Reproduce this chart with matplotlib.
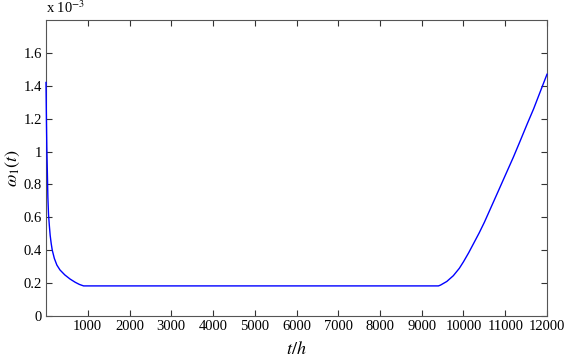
import matplotlib
matplotlib.use("Agg")
import matplotlib.pyplot as plt

t_hours = [0, 10, 20, 31, 45, 60, 80, 100, 125, 150, 200, 260, 335, 450, 575, 700, 800, 900,
           9400, 9450, 9600, 9756, 9900, 10000, 10125, 10250, 10375, 10500, 10667, 10834,
           11000, 11193, 11350, 11529, 11680, 11832, 12000]
omega = [1.42, 1.20, 1.02, 0.89, 0.72, 0.62, 0.55, 0.49, 0.44, 0.40, 0.35, 0.31, 0.28, 0.25, 0.225,
         0.205, 0.192, 0.183,
         0.183, 0.188, 0.21, 0.245, 0.29, 0.33, 0.385, 0.445, 0.505, 0.57, 0.665, 0.76,
         0.855, 0.965, 1.06, 1.17, 1.26, 1.36, 1.47]
x_ticks = [1000, 2000, 3000, 4000, 5000, 6000, 7000, 8000, 9000, 10000, 11000, 12000]
y_ticks = [0, 0.2, 0.4, 0.6, 0.8, 1.0, 1.2, 1.4, 1.6]
y_tick_labels = ["0", "0.2", "0.4", "0.6", "0.8", "1", "1.2", "1.4", "1.6"]

plt.rcParams['font.family'] = ['Liberation Serif', 'DejaVu Serif']
plt.rcParams['mathtext.fontset'] = 'stix'

fig = plt.figure(figsize=(5.67, 3.58), dpi=100)
ax = fig.add_axes([46/567, 1-316/358, (547-46)/567, (316-20)/358])
ax.plot(t_hours, omega, color='#0000ff', lw=1.0, zorder=3, clip_on=False)
ax.set_xlim(0, 12000)
ax.set_ylim(0, 1.8)
ax.set_xticks(x_ticks)
ax.set_yticks(y_ticks)
ax.set_yticklabels(y_tick_labels)
ax.tick_params(direction='in', top=True, right=True, length=4, width=0.8,
               colors='#333333', labelcolor='black', labelsize=10.5, pad=3)
for s in ax.spines.values():
    s.set_color('#555555')
    s.set_linewidth(0.8)
ax.set_xlabel('$t/h$', fontsize=13, labelpad=6)
ax.set_ylabel(r'$\omega_1(t)$', fontsize=13, labelpad=1)
ax.text(0.0, 1.012, r'x 10$^{-3}$', transform=ax.transAxes, fontsize=10.5, ha='left', va='bottom')
fig.savefig('out.png', dpi=100)
